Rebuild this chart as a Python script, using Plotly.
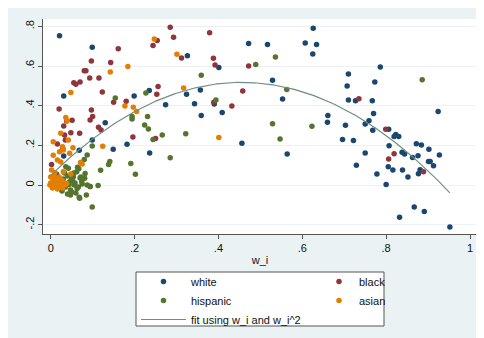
import numpy as np
import plotly.graph_objects as go

# ---- data ----
white_x = [0.021, 0.099, 0.031, 0.326, 0.401, 0.235, 0.199, 0.324, 0.357, 0.274, 0.343, 0.390, 0.409, 0.359,
           0.130, 0.099, 0.068, 0.149, 0.182, 0.236, 0.456, 0.472, 0.517, 0.607, 0.626, 0.634, 0.625, 0.529,
           0.553, 0.564, 0.661, 0.660, 0.703, 0.696, 0.722, 0.729, 0.710, 0.707, 0.710, 0.727, 0.786, 0.773,
           0.767, 0.770, 0.759, 0.750, 0.768, 0.750, 0.778, 0.800, 0.806, 0.807, 0.805, 0.816, 0.819, 0.823,
           0.830, 0.838, 0.844, 0.839, 0.852, 0.832, 0.867, 0.891, 0.872, 0.884, 0.863, 0.876, 0.877, 0.881,
           0.902, 0.901, 0.905, 0.913, 0.927, 0.924, 0.952, 0.031, 0.014]
white_y = [0.753, 0.694, 0.449, 0.652, 0.593, 0.477, 0.449, 0.457, 0.479, 0.405, 0.410, 0.408, 0.365, 0.351,
           0.314, 0.227, 0.175, 0.180, 0.205, 0.161, 0.210, 0.713, 0.708, 0.716, 0.790, 0.708, 0.661, 0.528,
           0.434, 0.156, 0.350, 0.316, 0.301, 0.229, 0.225, 0.099, 0.560, 0.499, 0.429, 0.425, 0.595, 0.519,
           0.425, 0.360, 0.324, 0.308, 0.276, 0.161, 0.055, 0.002, 0.281, 0.198, 0.092, 0.076, 0.244, 0.255,
           0.244, 0.165, 0.156, 0.076, 0.040, -0.163, -0.111, -0.133, 0.208, 0.202, 0.139, 0.148, 0.057, 0.077,
           0.180, 0.118, 0.119, 0.097, 0.151, 0.370, -0.212, 0.146, 0.054]

black_x = [0.285, 0.293, 0.244, 0.254, 0.379, 0.312, 0.388, 0.392, 0.472, 0.161, 0.097, 0.143, 0.080, 0.084,
           0.093, 0.115, 0.070, 0.055, 0.060, 0.123, 0.020, 0.097, 0.100, 0.094, 0.051, 0.038, 0.031, 0.180,
           0.150, 0.256, 0.253, 0.114, 0.120, 0.069, 0.048, 0.033, 0.035, 0.016, 0.029, 0.002, 0.196, 0.250,
           0.389, 0.432, 0.458, 0.735, 0.799, 0.806, 0.819, 0.889]
black_y = [0.795, 0.745, 0.704, 0.728, 0.768, 0.640, 0.639, 0.605, 0.600, 0.687, 0.625, 0.618, 0.576, 0.576,
           0.539, 0.539, 0.519, 0.516, 0.508, 0.469, 0.383, 0.378, 0.345, 0.328, 0.326, 0.323, 0.297, 0.422,
           0.417, 0.497, 0.457, 0.291, 0.277, 0.261, 0.264, 0.252, 0.227, 0.207, 0.183, 0.104, 0.242, 0.235,
           0.417, 0.398, 0.474, 0.435, 0.281, 0.131, 0.158, 0.067]

hisp_x = [0.489, 0.536, 0.886, 0.359, 0.563, 0.394, 0.227, 0.154, 0.194, 0.194, 0.231, 0.224, 0.233, 0.266,
          0.244, 0.322, 0.285, 0.529, 0.547, 0.623, 0.191, 0.202, 0.141, 0.138, 0.119, 0.099, 0.087, 0.080,
          0.067, 0.113, 0.099, 0.068, 0.085, 0.087, 0.081, 0.070, 0.047, 0.027, 0.063, 0.045, 0.036, 0.042,
          0.094, 0.062, 0.094, 0.069, 0.044, 0.054, 0.074, 0.031, 0.026, 0.047, 0.056, 0.082, 0.052,
          0.030, 0.040, 0.050, 0.058, 0.035, 0.050, 0.066, 0.072, 0.040, 0.060, 0.075, 0.055, 0.033, 0.064]
hisp_y = [0.608, 0.645, 0.531, 0.553, 0.482, 0.429, 0.464, 0.439, 0.346, 0.333, 0.346, 0.303, 0.282, 0.252,
          0.230, 0.259, 0.138, 0.309, 0.232, 0.296, 0.109, 0.054, 0.119, 0.103, 0.074, 0.197, 0.151, 0.129,
          0.082, -0.002, -0.111, -0.062, -0.050, 0.000, 0.034, 0.035, -0.050, -0.030, -0.017, 0.017, 0.092,
          0.084, -0.008, 0.067, -0.008, -0.067, 0.003, 0.042, 0.017, 0.008, -0.025, -0.025, 0.000, 0.058, 0.025,
          0.030, 0.045, 0.030, 0.010, -0.010, -0.035, -0.010, 0.040, -0.045, -0.040, 0.005, 0.060, 0.060, 0.090]

asian_x = [0.247, 0.301, 0.184, 0.142, 0.048, 0.317, 0.177, 0.197, 0.205, 0.124, 0.401, 0.036, 0.039, 0.024,
           0.042, 0.006, 0.028, 0.053, 0.021, 0.030, 0.045, 0.006, 0.016, 0.024, 0.071, 0.075, 0.002, 0.010,
           0.030, 0.048, 0.006, -0.002, 0.014, 0.022, 0.026, 0.005, 0.018, 0.010, 0.030, 0.038,
           0.000, 0.004, 0.012, 0.020, 0.008, 0.028, 0.016, 0.034, 0.000, 0.024, 0.012, 0.005]
asian_y = [0.736, 0.659, 0.598, 0.570, 0.467, 0.489, 0.398, 0.392, 0.371, 0.195, 0.240, 0.341, 0.324, 0.261,
           0.227, 0.218, 0.193, 0.188, 0.168, 0.176, 0.160, 0.150, 0.126, 0.116, 0.113, 0.106, 0.076, 0.062,
           0.067, 0.055, 0.025, 0.000, 0.017, -0.008, 0.025, 0.008, 0.000, -0.008, 0.017, 0.008,
           0.010, -0.015, 0.030, 0.040, 0.045, -0.015, -0.020, 0.000, 0.040, 0.010, 0.000, -0.005]

x_ticks = [0, 0.2, 0.4, 0.6, 0.8, 1]
x_labels = ["0", ".2", ".4", ".6", ".8", "1"]
y_ticks = [-0.2, 0, 0.2, 0.4, 0.6, 0.8]
y_labels = ["-.2", "0", ".2", ".4", ".6", ".8"]

# ---- quadratic fit (like Stata qfit) ----
all_x = np.array(white_x + black_x + hisp_x + asian_x)
all_y = np.array(white_y + black_y + hisp_y + asian_y)
coef = np.polyfit(all_x, all_y, 2)
fit_x = np.linspace(all_x.min(), all_x.max(), 200)
fit_y = np.polyval(coef, fit_x)

# figure sits inside the page body (8px default margin)
W, H = 476, 330
ML, MR, MT, MB = 35, 7, 11, 104
PW, PH = W - ML - MR, H - MT - MB

def px2paper_x(px):
    return (px - ML) / PW

def px2paper_y(py):
    return (H - MB - py) / PH

FONT = "Liberation Sans, Arial, sans-serif"
ms = 5.5
BG = "#eaf2f3"

fig = go.Figure()
fig.add_trace(go.Scatter(x=white_x, y=white_y, mode="markers", name="white", legend="legend",
                         marker=dict(color="#1a476f", size=ms)))
fig.add_trace(go.Scatter(x=black_x, y=black_y, mode="markers", name="black", legend="legend2",
                         marker=dict(color="#90353b", size=ms)))
fig.add_trace(go.Scatter(x=hisp_x, y=hisp_y, mode="markers", name="hispanic", legend="legend",
                         marker=dict(color="#55752f", size=ms)))
fig.add_trace(go.Scatter(x=asian_x, y=asian_y, mode="markers", name="asian", legend="legend2",
                         marker=dict(color="#e37e00", size=ms)))
fig.add_trace(go.Scatter(x=fit_x, y=fit_y, mode="lines", name="fit using w_i and w_i^2", legend="legend",
                         line=dict(color="#6e8e84", width=1.2)))

leg_top = 259
fig.update_layout(
    width=W, height=H,
    margin=dict(l=ML, r=MR, t=MT, b=MB, autoexpand=False),
    paper_bgcolor=BG,
    plot_bgcolor="white",
    font=dict(family=FONT, size=11, color="#111111"),
    shapes=[
        dict(type="rect", xref="paper", yref="paper",
             x0=px2paper_x(128), x1=px2paper_x(376), y0=px2paper_y(318), y1=px2paper_y(264),
             fillcolor="white", line=dict(width=1, color="#555555"), layer="below"),
    ],
    legend=dict(
        orientation="v",
        x=px2paper_x(128), xanchor="left",
        y=px2paper_y(leg_top), yanchor="top",
        bgcolor="rgba(0,0,0,0)", borderwidth=0,
        font=dict(family=FONT, size=11, color="#111111"),
        itemwidth=45,
        traceorder="normal",
    ),
    legend2=dict(
        orientation="v",
        x=px2paper_x(311), xanchor="left",
        y=px2paper_y(leg_top), yanchor="top",
        bgcolor="rgba(0,0,0,0)", borderwidth=0,
        font=dict(family=FONT, size=11, color="#111111"),
        traceorder="normal",
    ),
    xaxis=dict(
        range=[-0.0184, 1.0167], tickvals=x_ticks, ticktext=x_labels,
        showgrid=False, zeroline=False, showline=True, linecolor="#555555", linewidth=1,
        ticks="outside", ticklen=4, tickcolor="#555555",
        title=dict(text="w_i", standoff=3, font=dict(size=11)),
    ),
    yaxis=dict(
        range=[-0.247, 0.837], tickvals=y_ticks, ticktext=y_labels, tickangle=-90,
        showgrid=True, gridcolor=BG, gridwidth=1, zeroline=False,
        showline=True, linecolor="#555555", linewidth=1,
        ticks="outside", ticklen=4, tickcolor="#555555",
    ),
)

fig.write_html("out.html")
